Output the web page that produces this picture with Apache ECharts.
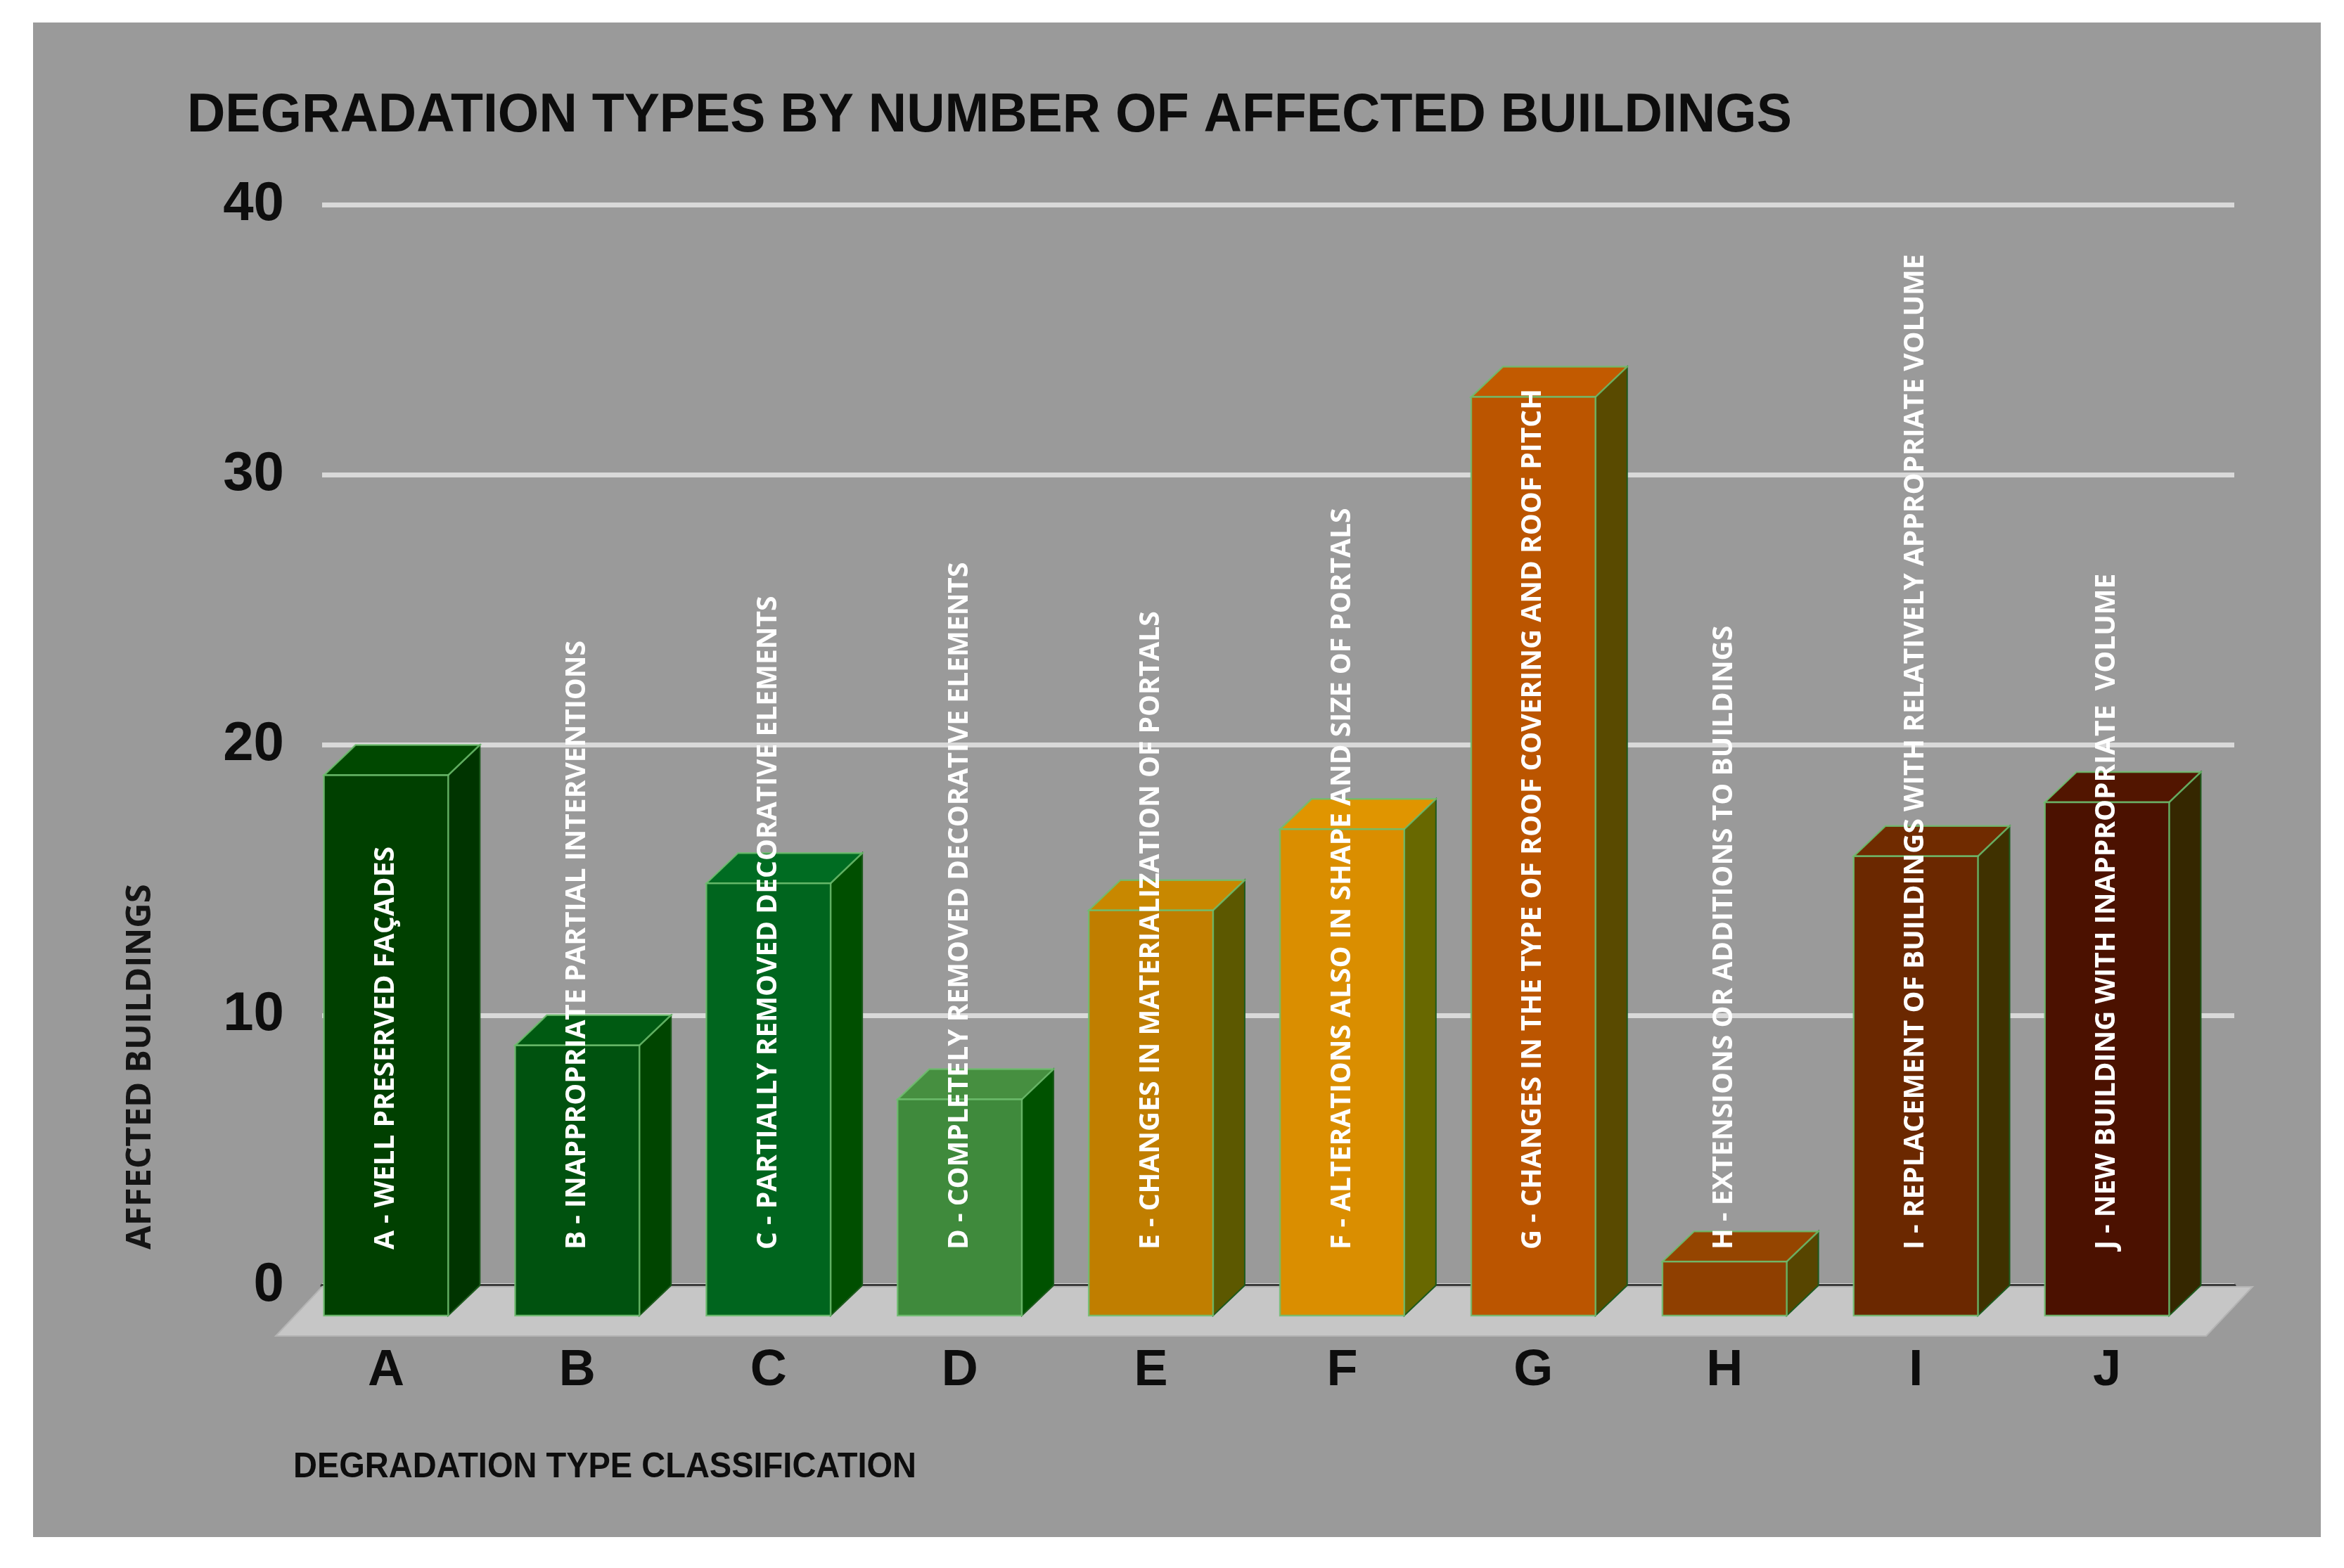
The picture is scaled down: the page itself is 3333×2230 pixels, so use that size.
<!DOCTYPE html>
<html>
<head>
<meta charset="utf-8">
<script src="https://cdn.jsdelivr.net/npm/echarts@6/dist/echarts.min.js"></script>
<style>
html,body{margin:0;padding:0;background:#ffffff;width:3333px;height:2230px;overflow:hidden}
#bg{position:absolute;left:47px;top:32px;width:3253px;height:2154px;background:#9a9a9a}
#chart{position:absolute;left:0;top:0;width:3333px;height:2230px}
</style>
</head>
<body>
<div id="bg"></div>
<div id="chart"></div>
<script>
// ---- data ----
const categories = ['A', 'B', 'C', 'D', 'E', 'F', 'G', 'H', 'I', 'J'];
const values = [20, 10, 16, 8, 15, 18, 34, 2, 17, 19];
const barLabels = [
  'A - WELL PRESERVED FAÇADES',
  'B - INAPPROPRIATE PARTIAL INTERVENTIONS',
  'C - PARTIALLY REMOVED DECORATIVE ELEMENTS',
  'D - COMPLETELY REMOVED DECORATIVE ELEMENTS',
  'E - CHANGES IN MATERIALIZATION OF PORTALS',
  'F - ALTERATIONS ALSO IN SHAPE AND SIZE OF PORTALS',
  'G - CHANGES IN THE TYPE OF ROOF COVERING AND ROOF PITCH',
  'H - EXTENSIONS OR ADDITIONS TO BUILDINGS',
  'I - REPLACEMENT OF BUILDINGS WITH RELATIVELY APPROPRIATE VOLUME',
  'J - NEW BUILDING WITH INAPPROPRIATE  VOLUME'
];
const yTicks = [0, 10, 20, 30, 40];
const chartTitle = 'DEGRADATION TYPES BY NUMBER OF AFFECTED BUILDINGS';
const xAxisTitle = 'DEGRADATION TYPE CLASSIFICATION';
const yAxisTitle = 'AFFECTED BUILDINGS';

// ---- colours ----
const frontColors = ['#004000', '#00520f', '#00651e', '#3f8a3c', '#c07e00', '#da8e00', '#bb5500', '#8f3f00', '#6b2800', '#4b1100'];
const sideColors  = ['#003400', '#004500', '#004f00', '#005200', '#5c5800', '#686800', '#594a00', '#574500', '#3f3100', '#352700'];
const topColors   = ['#004800', '#005a12', '#006c22', '#468f40', '#c88800', '#e09500', '#c25a00', '#954500', '#702b00', '#521500'];

const DX = 45, DY = 43;          // depth offset of the 3D look (px)
const BAR_RATIO = 0.65;          // front face width / band
const LABEL_LIFT = 94;           // label start above front bottom

const chart = echarts.init(document.getElementById('chart'), null, {renderer: 'canvas'});

function renderFloor(params, api) {
  const cs = params.coordSys;
  const y0 = cs.y + cs.height + 2;
  const depthX = 66, depthY = 70;
  return {
    type: 'polygon',
    shape: {points: [
      [cs.x, y0], [cs.x + cs.width + 26, y0],
      [cs.x + cs.width + 26 - depthX, y0 + depthY], [cs.x - depthX, y0 + depthY]
    ]},
    style: {fill: '#c6c6c6', stroke: '#b4b4b4', lineWidth: 2}
  };
}

function renderBar(params, api) {
  const i = api.value(0);
  const v = api.value(1);
  const base = api.coord([i, 0]);
  const top = api.coord([i, v]);
  const band = api.size([1, 0])[0];
  const w = band * BAR_RATIO;
  const fl = base[0] - DX - w / 2, fr = fl + w;
  const ft = top[1] + DY, fb = base[1] + DY;
  const edge = 'rgba(110,190,110,0.85)';
  return {
    type: 'group',
    children: [
      {type: 'polygon', z2: 10, shape: {points: [[fr, ft], [fr + DX, ft - DY], [fr + DX, fb - DY], [fr, fb]]},
        style: {fill: sideColors[i], stroke: '#1d5a1d', lineWidth: 2}},
      {type: 'polygon', z2: 11, shape: {points: [[fl, ft], [fr, ft], [fr + DX, ft - DY], [fl + DX, ft - DY]]},
        style: {fill: topColors[i], stroke: edge, lineWidth: 2.5}},
      {type: 'rect', z2: 12, shape: {x: fl, y: ft, width: w, height: fb - ft},
        style: {fill: frontColors[i], stroke: edge, lineWidth: 2.5}},
      {type: 'text', z2: 100, x: (fl + fr) / 2, y: fb - LABEL_LIFT, rotation: Math.PI / 2,
        style: {text: barLabels[i], fill: '#ffffff', font: 'bold 39px "Open Sans", "DejaVu Sans", sans-serif',
          align: 'left', verticalAlign: 'middle', textAlign: 'left', textVerticalAlign: 'middle'}}
    ]
  };
}

const option = {
  backgroundColor: 'transparent',
  animation: false,
  grid: {left: 458, top: 291, width: 2719, height: 1537, containLabel: false},
  xAxis: {
    type: 'category',
    data: categories,
    axisLine: {show: true, lineStyle: {color: '#3a3a3a', width: 5}},
    axisTick: {show: false},
    axisLabel: {color: '#0d0d0d', fontSize: 72, fontWeight: 'bold', fontFamily: '"Liberation Sans", Arial, sans-serif',
      margin: 86, padding: [0, 90, 0, 0]}
  },
  yAxis: {
    type: 'value',
    min: yTicks[0], max: yTicks[yTicks.length - 1], interval: 10,
    axisLine: {show: false},
    axisTick: {show: false},
    axisLabel: {color: '#0d0d0d', fontSize: 78, fontWeight: 'bold', fontFamily: '"Liberation Sans", Arial, sans-serif', margin: 54},
    splitLine: {show: true, lineStyle: {color: '#d9d9d9', width: 7}}
  },
  graphic: [
    {type: 'text', x: 266, y: 165, scaleX: 0.965,
      style: {text: chartTitle, fill: '#0d0d0d', font: 'bold 78px "Liberation Sans", Arial, sans-serif',
        align: 'left', verticalAlign: 'middle', textAlign: 'left', textVerticalAlign: 'middle'}},
    {type: 'text', x: 417, y: 2087, scaleX: 0.94,
      style: {text: xAxisTitle, fill: '#0d0d0d', font: 'bold 50px "Liberation Sans", Arial, sans-serif',
        align: 'left', verticalAlign: 'middle', textAlign: 'left', textVerticalAlign: 'middle'}},
    {type: 'text', x: 200, y: 1777, rotation: Math.PI / 2,
      style: {text: yAxisTitle, fill: '#141414', font: 'bold 49px "Open Sans", "DejaVu Sans", sans-serif',
        align: 'left', verticalAlign: 'middle', textAlign: 'left', textVerticalAlign: 'middle'}}
  ],
  series: [
    {type: 'custom', name: 'floor', z: 1, silent: true, renderItem: renderFloor, data: [[0, 0]], encode: {x: 0, y: 1}},
    {type: 'custom', name: 'Affected buildings', z: 3, renderItem: renderBar,
      data: values.map((v, i) => [i, v]), encode: {x: 0, y: 1}}
  ]
};
chart.setOption(option);
</script>
</body>
</html>
